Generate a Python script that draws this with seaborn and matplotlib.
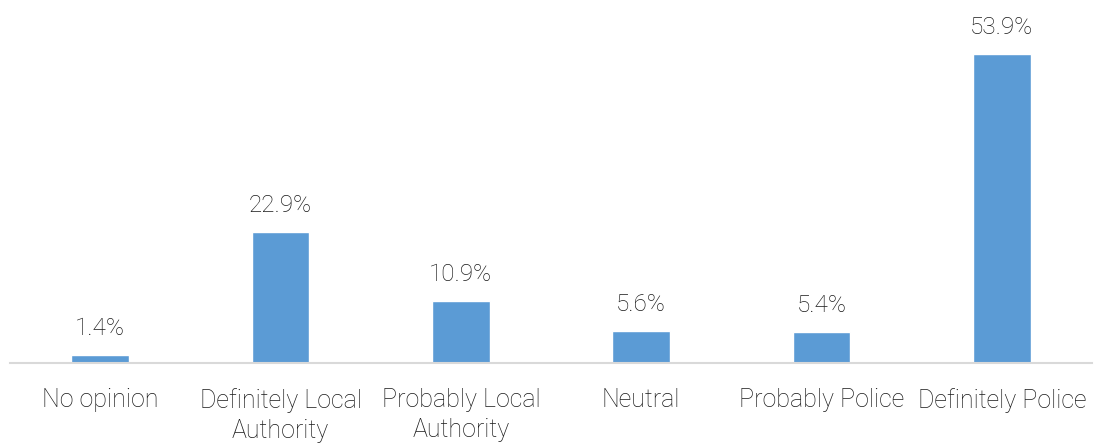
import matplotlib
matplotlib.use("Agg")
import matplotlib.pyplot as plt
import seaborn as sns
import pandas as pd

categories = ["No opinion", "Definitely Local\nAuthority", "Probably Local\nAuthority",
              "Neutral", "Probably Police", "Definitely Police"]
values = [1.4, 22.9, 10.9, 5.6, 5.4, 53.9]
labels = ["1.4%", "22.9%", "10.9%", "5.6%", "5.4%", "53.9%"]

sns.set_theme(style="white")
plt.rcParams['font.family'] = ['Roboto', 'DejaVu Sans']

df = pd.DataFrame({"cat": categories, "val": values})
fig = plt.figure(figsize=(10.96, 4.45), dpi=100)
ax = fig.add_axes([10/1096, (445-363)/445, 1082/1096, 363/445])
sns.barplot(data=df, x="cat", y="val", color="#5B9BD5", saturation=1, width=0.32, ax=ax)
ax.set_ylim(0, 63.35)
ax.set_xlim(-0.5, 5.5)
for i, (v, t) in enumerate(zip(values, labels)):
    ax.text(i, v + 2.6, t, ha="center", va="bottom", fontsize=17.5, fontweight="light", color="#1a1a1a")
ax.set_xlabel("")
ax.set_ylabel("")
ax.set_yticks([])
ax.tick_params(axis="x", length=0, pad=18, labelsize=18, colors="#1a1a1a")
for lab in ax.get_xticklabels():
    lab.set_fontweight("light")
    lab.set_linespacing(1.3)
for s in ["top", "left", "right"]:
    ax.spines[s].set_visible(False)
ax.spines["bottom"].set_color("#D9D9D9")
ax.spines["bottom"].set_linewidth(1.5)
fig.savefig("out.png", dpi=100)
